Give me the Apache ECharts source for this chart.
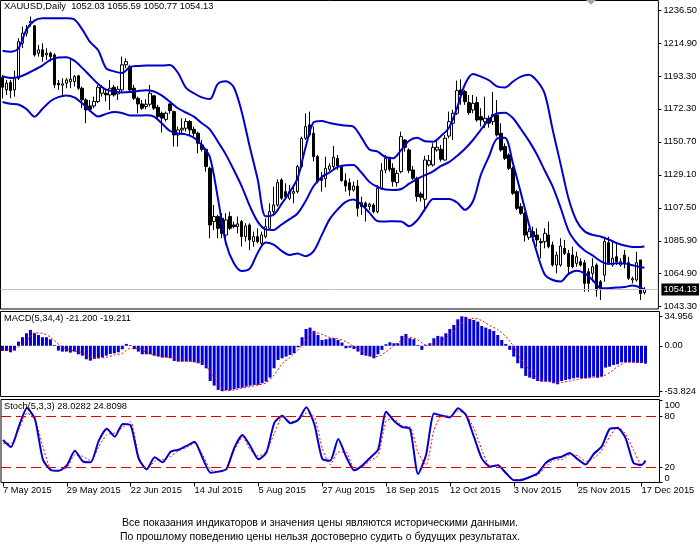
<!DOCTYPE html>
<html>
<head>
<meta charset="utf-8">
<script src="https://cdn.jsdelivr.net/npm/echarts@6/dist/echarts.min.js"></script>
<style>
  html, body { margin: 0; padding: 0; background: #fff; }
  #chart { width: 700px; height: 552px; }
</style>
</head>
<body>
<div id="chart"></div>
<script>
const FONT = "'Liberation Sans', Arial, sans-serif";
const START_DATE = "2015-05-07";
const BAR_COUNT = 162;
const PAD_BARS = 3;

// daily bars
const OPEN = [
  1193.0, 1184.7, 1189.5, 1184.7, 1192.3, 1215.2, 1221.8, 1228.5, 1226.6, 1208.7,
  1210.9, 1207.6, 1208.7, 1207.6, 1189.1, 1187.8, 1189.1, 1190.1, 1190.1, 1193.9,
  1185.8, 1178.1, 1174.2, 1174.2, 1177.1, 1182.5, 1182.5, 1181.4, 1186.4, 1182.1,
  1184.7, 1201.1, 1200.0, 1185.8, 1179.2, 1175.5, 1173.8, 1175.3, 1180.8, 1173.3,
  1169.4, 1165.4, 1175.5, 1170.5, 1155.2, 1158.5, 1159.6, 1164.0, 1158.9, 1156.3,
  1148.7, 1145.8, 1133.4, 1098.5, 1101.8, 1100.7, 1089.7, 1101.8, 1096.3, 1095.2,
  1098.5, 1088.7, 1096.3, 1085.4, 1088.7, 1084.3, 1088.7, 1094.1, 1105.0, 1109.4,
  1125.8, 1118.1, 1113.8, 1117.0, 1118.1, 1134.5, 1153.0, 1161.8, 1156.3, 1141.0,
  1127.0, 1126.5, 1132.7, 1134.5, 1139.9, 1134.5, 1125.3, 1124.0, 1119.2, 1121.8,
  1110.9, 1110.5, 1108.3, 1109.4, 1105.0, 1120.3, 1132.3, 1139.3, 1133.4, 1124.0,
  1131.2, 1151.9, 1145.4, 1132.3, 1126.8, 1116.6, 1113.1, 1135.6, 1135.6, 1145.4,
  1145.8, 1138.8, 1154.5, 1162.9, 1169.4, 1184.7, 1183.6, 1176.4, 1171.6, 1176.4,
  1167.2, 1163.9, 1166.1, 1163.9, 1168.3, 1156.3, 1147.6, 1142.1, 1133.4, 1118.1,
  1108.3, 1103.9, 1088.2, 1091.9, 1089.7, 1085.4, 1085.4, 1089.7, 1083.2, 1070.1,
  1070.1, 1081.0, 1077.7, 1076.6, 1071.2, 1072.3, 1071.6, 1065.7, 1064.6, 1070.1,
  1059.2, 1063.5, 1084.7, 1070.1, 1075.5, 1070.1, 1076.6, 1071.6, 1060.3, 1060.3,
  1073.4, 1052.03
];
const CLOSE = [
  1186.4, 1189.1, 1184.3, 1192.3, 1216.3, 1221.8, 1224.4, 1229.5, 1207.6, 1210.9,
  1206.5, 1208.7, 1206.5, 1188.0, 1188.0, 1188.6, 1191.2, 1191.7, 1193.4, 1185.8,
  1178.1, 1171.6, 1172.0, 1177.1, 1186.4, 1186.4, 1181.4, 1185.8, 1181.4, 1185.1,
  1201.1, 1203.2, 1184.7, 1179.2, 1175.5, 1172.7, 1175.3, 1182.5, 1172.7, 1167.2,
  1166.2, 1169.4, 1171.1, 1155.2, 1158.5, 1159.6, 1164.0, 1158.5, 1156.3, 1149.8,
  1145.8, 1134.5, 1096.3, 1101.8, 1094.1, 1090.8, 1099.6, 1094.1, 1095.2, 1097.0,
  1088.7, 1095.7, 1086.5, 1088.7, 1085.4, 1089.8, 1095.2, 1105.0, 1109.4, 1124.0,
  1113.8, 1114.9, 1118.1, 1118.1, 1134.5, 1153.0, 1160.7, 1155.2, 1141.0, 1124.7,
  1125.5, 1133.4, 1134.9, 1140.6, 1134.9, 1125.3, 1121.8, 1119.2, 1121.8, 1107.2,
  1108.3, 1108.3, 1109.8, 1105.0, 1120.3, 1131.9, 1139.9, 1132.7, 1124.7, 1130.1,
  1154.1, 1147.1, 1131.9, 1126.8, 1114.9, 1114.4, 1138.8, 1138.4, 1147.1, 1147.1,
  1139.3, 1153.0, 1163.9, 1169.4, 1184.2, 1181.4, 1177.0, 1169.8, 1175.9, 1165.0,
  1165.0, 1166.1, 1162.9, 1168.5, 1155.2, 1145.4, 1139.9, 1133.4, 1117.0, 1107.2,
  1103.9, 1089.7, 1091.9, 1088.6, 1086.5, 1084.7, 1090.8, 1082.1, 1070.1, 1076.6,
  1082.5, 1077.7, 1069.0, 1069.0, 1075.5, 1070.1, 1058.1, 1058.1, 1069.0, 1053.7,
  1054.8, 1085.4, 1071.2, 1074.5, 1072.3, 1072.3, 1071.2, 1061.4, 1061.2, 1071.6,
  1051.5, 1054.13
];
const HIGH = [
  1194.5, 1191.2, 1191.2, 1197.3, 1218.5, 1226.1, 1227.2, 1232.7, 1227.2, 1214.1,
  1215.2, 1212.0, 1209.8, 1208.7, 1191.2, 1192.3, 1192.3, 1205.4, 1194.5, 1194.5,
  1186.9, 1179.2, 1178.1, 1180.3, 1188.0, 1188.0, 1184.7, 1191.2, 1188.0, 1187.3,
  1206.5, 1205.4, 1201.1, 1188.0, 1180.3, 1178.1, 1178.6, 1188.0, 1181.4, 1174.9,
  1170.5, 1170.5, 1175.9, 1171.1, 1160.7, 1166.1, 1166.1, 1165.0, 1160.7, 1157.4,
  1152.0, 1146.5, 1134.5, 1109.4, 1102.9, 1104.0, 1104.0, 1105.0, 1098.5, 1101.8,
  1099.6, 1097.4, 1097.4, 1091.9, 1094.1, 1091.9, 1100.7, 1110.5, 1121.4, 1126.2,
  1126.9, 1123.6, 1122.5, 1121.4, 1135.6, 1154.1, 1169.4, 1170.5, 1160.7, 1142.1,
  1131.0, 1141.0, 1136.7, 1148.0, 1142.1, 1135.6, 1130.1, 1126.8, 1124.7, 1125.8,
  1114.9, 1111.6, 1110.9, 1110.5, 1122.5, 1136.7, 1142.1, 1141.0, 1136.7, 1132.3,
  1157.4, 1152.4, 1146.5, 1134.9, 1127.9, 1118.1, 1141.5, 1142.1, 1149.8, 1152.4,
  1148.7, 1155.2, 1170.5, 1171.6, 1190.8, 1191.6, 1184.7, 1181.4, 1181.4, 1180.3,
  1172.7, 1180.3, 1168.0, 1183.4, 1178.0, 1162.8, 1149.7, 1143.2, 1134.5, 1119.2,
  1110.5, 1105.0, 1094.1, 1095.2, 1094.1, 1087.6, 1094.1, 1098.5, 1085.4, 1078.8,
  1087.6, 1086.5, 1079.9, 1082.1, 1078.8, 1074.5, 1073.4, 1067.9, 1074.5, 1071.2,
  1060.3, 1088.6, 1088.6, 1085.4, 1084.3, 1074.5, 1079.9, 1075.5, 1062.5, 1078.8,
  1073.4, 1055.59
];
const LOW = [
  1179.2, 1181.4, 1179.2, 1180.3, 1191.2, 1212.0, 1219.6, 1226.1, 1206.5, 1206.5,
  1203.2, 1204.3, 1203.2, 1185.8, 1184.7, 1181.4, 1185.8, 1185.8, 1186.9, 1184.7,
  1172.7, 1162.9, 1170.5, 1172.7, 1176.0, 1180.3, 1177.1, 1171.6, 1180.3, 1178.1,
  1182.5, 1198.9, 1183.6, 1178.1, 1169.4, 1171.6, 1172.0, 1173.8, 1171.6, 1166.2,
  1156.8, 1164.0, 1169.0, 1147.6, 1147.6, 1155.2, 1157.4, 1155.2, 1154.1, 1143.2,
  1144.3, 1131.2, 1087.6, 1093.0, 1087.6, 1087.6, 1083.2, 1093.0, 1094.1, 1090.8,
  1082.1, 1085.4, 1079.9, 1082.1, 1084.3, 1082.1, 1087.6, 1093.0, 1102.9, 1108.3,
  1112.7, 1113.8, 1112.7, 1110.5, 1117.0, 1133.4, 1152.0, 1154.1, 1137.8, 1123.6,
  1118.1, 1121.0, 1131.2, 1132.3, 1132.3, 1124.7, 1118.1, 1115.3, 1118.1, 1101.8,
  1102.9, 1098.5, 1106.1, 1103.9, 1103.9, 1119.2, 1130.1, 1131.2, 1121.4, 1121.4,
  1130.1, 1144.3, 1130.1, 1125.8, 1111.6, 1111.6, 1105.0, 1134.5, 1134.5, 1144.3,
  1137.8, 1138.4, 1153.0, 1151.9, 1168.3, 1174.9, 1174.9, 1168.3, 1169.4, 1163.9,
  1160.7, 1159.6, 1160.0, 1161.7, 1154.1, 1144.3, 1138.8, 1132.3, 1116.0, 1106.1,
  1102.9, 1085.4, 1086.5, 1085.4, 1082.1, 1074.5, 1081.0, 1081.0, 1069.0, 1064.6,
  1069.0, 1076.6, 1064.6, 1067.9, 1069.0, 1069.0, 1052.6, 1052.6, 1059.2, 1049.4,
  1047.2, 1059.2, 1070.1, 1069.0, 1070.1, 1069.0, 1067.9, 1060.3, 1058.1, 1059.2,
  1047.2, 1050.77
];

// Bollinger bands, read every second bar (plus the last one)
const BB_UPPER = [
  1210.3, 1209.7, 1211.9, 1224.1, 1230.0, 1231.6, 1231.6, 1231.6, 1231.6, 1230.8,
  1224.3, 1215.9, 1210.6, 1198.8, 1196.8, 1195.7, 1199.7, 1200.4, 1200.7, 1200.7,
  1200.7, 1201.0, 1195.9, 1186.2, 1182.5, 1179.8, 1178.7, 1188.6, 1190.4, 1186.4,
  1170.3, 1147.6, 1126.2, 1102.0, 1103.0, 1110.1, 1117.7, 1126.8, 1147.0, 1163.4,
  1164.4, 1163.1, 1162.0, 1161.4, 1160.7, 1153.6, 1145.7, 1144.4, 1140.8, 1140.0,
  1145.4, 1151.4, 1153.3, 1151.1, 1150.8, 1154.6, 1160.0, 1172.9, 1188.4, 1195.1,
  1193.4, 1191.0, 1187.0, 1186.3, 1190.1, 1193.4, 1194.6, 1190.7, 1182.1, 1158.5,
  1135.8, 1113.3, 1098.9, 1092.1, 1089.8, 1088.8, 1086.8, 1084.5, 1082.8, 1081.9,
  1081.9, 1082.2
];
const BB_MIDDLE = [
  1193.6, 1192.5, 1193.1, 1195.1, 1197.8, 1200.6, 1204.4, 1205.9, 1206.1, 1203.8,
  1199.1, 1193.8, 1188.6, 1184.9, 1183.8, 1183.0, 1183.3, 1184.0, 1184.5, 1183.6,
  1180.9, 1176.9, 1172.7, 1169.9, 1167.2, 1162.9, 1158.9, 1150.9, 1142.5, 1132.4,
  1121.6, 1108.8, 1098.5, 1093.4, 1093.0, 1096.6, 1100.1, 1103.8, 1111.8, 1121.6,
  1127.6, 1130.7, 1134.1, 1135.4, 1135.6, 1130.6, 1124.5, 1121.3, 1119.5, 1119.2,
  1119.8, 1123.3, 1126.5, 1128.9, 1131.4, 1134.9, 1137.4, 1141.5, 1146.2, 1151.9,
  1158.7, 1165.2, 1169.3, 1169.8, 1166.3, 1159.1, 1151.5, 1142.6, 1131.9, 1121.4,
  1107.4, 1092.3, 1084.5, 1079.6, 1076.4, 1072.6, 1070.8, 1071.2, 1071.0, 1069.9,
  1068.8, 1068.2
];
const BB_LOWER = [
  1176.8, 1175.6, 1175.1, 1172.2, 1167.2, 1172.2, 1177.3, 1180.0, 1181.1, 1179.8,
  1175.9, 1170.9, 1167.3, 1169.0, 1170.2, 1169.6, 1167.9, 1167.9, 1168.1, 1167.2,
  1162.7, 1157.8, 1156.2, 1155.6, 1153.4, 1148.5, 1140.8, 1114.2, 1084.8, 1071.4,
  1066.2, 1067.7, 1078.0, 1084.8, 1083.4, 1079.4, 1076.7, 1077.6, 1075.8, 1079.0,
  1089.3, 1099.8, 1106.3, 1111.3, 1112.9, 1109.7, 1104.4, 1098.9, 1098.5, 1098.8,
  1098.6, 1095.5, 1099.4, 1106.8, 1113.3, 1113.3, 1113.3, 1111.0, 1106.2, 1111.8,
  1129.3, 1141.1, 1152.7, 1153.3, 1136.9, 1117.3, 1097.0, 1078.5, 1063.9, 1060.3,
  1059.3, 1064.3, 1066.3, 1064.6, 1060.3, 1055.1, 1054.9, 1055.3, 1055.7, 1056.6,
  1055.4, 1053.8
];

// MACD(5,34,4): histogram every bar, signal every second bar
const MACD_HIST = [
  -6.1, -6.1, -7.7, -5.7, 4.9, 10.1, 14.8, 18.8, 14.8, 12.8,
  10.1, 10.1, 7.7, 1.0, -5.7, -6.9, -6.9, -8.1, -6.9, -10.1,
  -11.7, -16.0, -17.6, -15.6, -14.8, -13.6, -11.7, -9.7, -8.9, -7.7,
  -4.1, 2.2, 0.8, -4.1, -6.9, -10.1, -10.1, -10.1, -11.7, -12.8,
  -14.0, -14.0, -14.8, -18.0, -18.8, -18.8, -18.8, -18.8, -19.6, -20.7,
  -22.7, -26.7, -41.7, -47.2, -52.3, -53.824, -52.7, -52.7, -51.5, -50.4,
  -49.6, -48.4, -47.2, -46.4, -46.4, -44.4, -42.5, -37.7, -26.7, -16.8,
  -14.8, -12.8, -10.9, -8.9, -1.8, 10.1, 19.9, 21.5, 17.6, 12.8,
  6.9, 7.7, 8.9, 8.9, 6.9, 3.8, -3.0, -2.2, -3.8, -6.9,
  -10.9, -11.7, -12.8, -14.8, -10.1, -4.9, 1.8, 4.1, 3.0, 3.0,
  11.7, 14.0, 8.9, 7.7, 1.0, -4.9, 1.0, 3.0, 8.9, 11.7,
  10.9, 14.8, 19.9, 24.7, 31.4, 34.956, 34.2, 31.8, 30.6, 28.6,
  23.5, 21.5, 19.6, 17.6, 12.8, 6.9, 2.2, -4.9, -12.8, -20.7,
  -26.7, -35.7, -37.7, -39.3, -41.7, -42.5, -42.5, -42.5, -44.4, -45.6,
  -41.7, -40.5, -39.7, -38.5, -37.7, -38.5, -38.5, -37.7, -36.5, -37.7,
  -36.5, -25.9, -24.7, -22.7, -21.9, -19.6, -19.6, -19.6, -20.0, -20.2,
  -20.5, -21.2
];
const MACD_SIGNAL = [
  -4.9, -4.9, -1.0, 5.7, 15.2, 14.8, 10.1, 1.8, -3.8, -6.1,
  -8.1, -13.2, -14.4, -13.6, -10.9, -8.9, -3.0, -3.0, -7.7, -10.5,
  -12.0, -13.2, -15.6, -17.2, -18.8, -19.6, -30.6, -44.4, -53.1, -52.3,
  -50.0, -48.4, -46.4, -44.0, -34.6, -21.5, -13.6, -4.9, 6.9, 16.0,
  13.6, 9.7, 8.1, 4.9, -1.0, -5.7, -11.7, -12.8, -6.9, 0.2,
  6.9, 10.1, 6.9, 1.0, 2.2, 6.1, 12.8, 22.3, 29.8, 32.6,
  29.8, 23.9, 19.2, 10.9, -1.0, -16.8, -29.0, -38.1, -41.7, -43.2,
  -43.2, -41.7, -39.7, -38.5, -37.7, -36.5, -31.8, -24.7, -19.9, -19.0,
  -19.0, -19.211
];

// Stochastic(5,3,3), every second bar
const STOCH_K = [
  52.4, 44.0, 68.9, 90.3, 77.2, 29.1, 16.8, 16.0, 22.4, 39.7,
  27.1, 25.9, 51.6, 65.8, 56.3, 71.5, 69.7, 30.3, 17.6, 31.8,
  25.9, 38.5, 40.9, 45.3, 50.4, 31.0, 13.7, 14.9, 18.0, 43.7,
  58.3, 44.9, 29.5, 37.4, 72.9, 81.2, 72.1, 76.4, 91.1, 71.3,
  29.9, 27.9, 53.5, 32.6, 16.4, 22.0, 31.4, 40.9, 85.9, 74.9,
  67.8, 65.4, 12.0, 34.6, 83.9, 81.2, 79.2, 89.9, 82.0, 56.3,
  30.3, 20.8, 22.4, 13.3, 4.6, 5.0, 8.5, 12.9, 25.1, 30.7,
  32.6, 37.0, 29.5, 23.2, 35.8, 44.5, 65.4, 66.6, 54.7, 25.1,
  22.8, 28.0282
];
const STOCH_D = [
  48.4, 48.4, 65.0, 84.3, 76.8, 44.5, 17.2, 16.0, 19.6, 34.6,
  33.0, 27.9, 44.5, 58.7, 60.7, 67.4, 74.1, 32.6, 17.2, 27.1,
  29.1, 33.0, 39.7, 43.7, 48.4, 35.0, 17.2, 14.9, 18.0, 40.5,
  55.9, 40.5, 33.4, 38.9, 60.3, 79.6, 74.1, 75.7, 84.3, 80.0,
  42.5, 23.2, 38.2, 37.8, 18.8, 20.4, 27.9, 34.2, 74.9, 77.2,
  68.9, 68.2, 37.4, 22.8, 64.2, 81.6, 80.4, 86.7, 82.8, 66.2,
  40.5, 21.2, 22.8, 14.9, 5.0, 6.2, 8.1, 10.9, 20.4, 28.7,
  29.1, 35.0, 33.8, 27.1, 30.7, 39.7, 56.3, 67.8, 59.5, 40.5,
  23.2, 24.8098
];

const TICK_INDEX = [0, 16, 32, 48, 64, 80, 96, 112, 128, 144, 160];
const PRICE_TICKS = [1236.5, 1214.9, 1193.3, 1172.3, 1150.7, 1129.1, 1107.5, 1085.9, 1064.9, 1043.3];
const MACD_TICKS = [34.956, 0, -53.824];
const STOCH_TICKS = [100, 80, 20, 2];
const STOCH_LEVELS = [80, 20];
const NOTE_LINES = [
  "Все показания индикаторов и значения цены являются историческими данными.",
  "По прошлому поведению цены нельзя достоверно судить о будущих результатах.",
];

const MONTHS = ["Jan", "Feb", "Mar", "Apr", "May", "Jun", "Jul", "Aug", "Sep", "Oct", "Nov", "Dec"];

function buildDates(n) {
  const out = [];
  const d = new Date(START_DATE + "T00:00:00Z");
  while (out.length < n) {
    const wd = d.getUTCDay();
    if (wd !== 0 && wd !== 6) {
      out.push(`${d.getUTCDate()} ${MONTHS[d.getUTCMonth()]} ${d.getUTCFullYear()}`);
    }
    d.setUTCDate(d.getUTCDate() + 1);
  }
  return out;
}

const DATES = buildDates(BAR_COUNT + PAD_BARS);
const SAMPLE_IDX = [];
for (let i = 0; i < BAR_COUNT; i += 2) SAMPLE_IDX.push(i);
SAMPLE_IDX.push(BAR_COUNT - 1);

const last = BAR_COUNT - 1;
const pairs = (vals) => vals.map((v, k) => [SAMPLE_IDX[k], v]);
const isTick = (idx) => TICK_INDEX.includes(idx);

const textBase = { fontFamily: FONT, fontSize: 9.3, color: "#000", fontWeight: "normal" };

const grids = [
  { left: 0.5, top: 0.5, width: 659, height: 308.5 },
  { left: 0.5, top: 311.5, width: 659, height: 85 },
  { left: 0.5, top: 399.5, width: 659, height: 83 },
].map((g) => ({ ...g, show: true, borderColor: "#000", borderWidth: 1, backgroundColor: "#fff" }));

const hiddenX = (gi) => ({
  type: "category", gridIndex: gi, data: DATES, boundaryGap: true,
  axisLine: { show: false }, axisTick: { show: false }, axisLabel: { show: false }, splitLine: { show: false },
});

const rightY = (gi, min, max, ticks, fmt, extra = {}) => ({
  type: "value", gridIndex: gi, position: "right", min, max,
  splitLine: { show: false },
  axisLine: { show: false },
  axisTick: { show: true, customValues: ticks, length: 3, lineStyle: { color: "#000" } },
  axisLabel: { customValues: ticks, formatter: fmt, margin: 5, ...textBase, ...extra },
});

const chart = echarts.init(document.getElementById("chart"), null, { renderer: "canvas" });

chart.setOption({
  animation: false,
  backgroundColor: "#fff",
  title: [
    {
      text: `XAUUSD,Daily  ${OPEN[last]} ${HIGH[last]} ${LOW[last]} ${CLOSE[last]}`,
      left: 4, top: 2, padding: 0, textStyle: textBase,
    },
    {
      text: `MACD(5,34,4) ${MACD_HIST[last].toFixed(3)} ${MACD_SIGNAL[MACD_SIGNAL.length - 1].toFixed(3)}`,
      left: 4, top: 314, padding: 0, textStyle: textBase,
    },
    {
      text: `Stoch(5,3,3) ${STOCH_K[STOCH_K.length - 1].toFixed(4)} ${STOCH_D[STOCH_D.length - 1].toFixed(4)}`,
      left: 4, top: 402, padding: 0, textStyle: textBase,
    },
    {
      text: NOTE_LINES.join("\n"),
      left: 320, top: 516, padding: 0, textAlign: "center",
      textStyle: { fontFamily: FONT, fontSize: 10.5, lineHeight: 14, color: "#000", fontWeight: "normal" },
    },
  ],
  graphic: [
    { type: "polygon", shape: { points: [[586, 0], [596, 0], [591, 5]] }, style: { fill: "#a8a8a8" } },
  ],
  grid: grids,
  xAxis: [
    hiddenX(0),
    hiddenX(1),
    {
      type: "category", gridIndex: 2, data: DATES, boundaryGap: true,
      axisLine: { show: false },
      splitLine: { show: false },
      axisTick: { show: true, interval: isTick, alignWithLabel: true, length: 4, lineStyle: { color: "#000" } },
      axisLabel: { interval: isTick, align: "left", margin: 3, ...textBase },
    },
  ],
  yAxis: [
    rightY(0, 1041.3, 1243.2, PRICE_TICKS, (v) => v.toFixed(2)),
    rightY(1, -60.1, 40.6, MACD_TICKS, (v) => (v === 0 ? "0.00" : v.toFixed(3))),
    rightY(2, 2, 100.4, STOCH_TICKS,
      (v) => (v >= 99 ? "{t|100}" : v <= 3 ? "{b|0}" : String(v)),
      {
        rich: {
          t: { ...textBase, padding: [12, 0, 0, 0] },
          b: { ...textBase, padding: [0, 0, 9, 0] },
        },
      }),
  ],
  series: [
    {
      type: "candlestick",
      xAxisIndex: 0, yAxisIndex: 0,
      barWidth: 3,
      data: OPEN.map((o, i) => [o, CLOSE[i], LOW[i], HIGH[i]]),
      itemStyle: { color: "#fff", color0: "#000", borderColor: "#000", borderColor0: "#000", borderWidth: 1 },
      markLine: {
        silent: true, symbol: "none",
        lineStyle: { color: "#c0c0c0", width: 1, type: "solid" },
        label: {
          position: "end", distance: 3,
          formatter: () => CLOSE[last].toFixed(2),
          backgroundColor: "#000", color: "#fff", padding: [2, 2, 1, 2],
          fontFamily: FONT, fontSize: 9.3,
        },
        data: [{ yAxis: CLOSE[last] }],
      },
    },
    ...[BB_UPPER, BB_MIDDLE, BB_LOWER].map((band) => ({
      type: "line",
      xAxisIndex: 0, yAxisIndex: 0,
      data: pairs(band),
      smooth: 0.3, symbol: "none",
      lineStyle: { color: "#0000cd", width: 2 },
    })),
    {
      type: "bar",
      xAxisIndex: 1, yAxisIndex: 1,
      barWidth: 3,
      data: MACD_HIST,
      itemStyle: { color: "#0000dd" },
    },
    {
      type: "line",
      xAxisIndex: 1, yAxisIndex: 1,
      data: pairs(MACD_SIGNAL),
      smooth: 0.3, symbol: "none",
      lineStyle: { color: "#ff0000", width: 1, type: [2, 2] },
    },
    {
      type: "line",
      xAxisIndex: 2, yAxisIndex: 2,
      data: pairs(STOCH_D),
      smooth: 0.2, symbol: "none",
      lineStyle: { color: "#ff0000", width: 1, type: [2, 2] },
      markLine: {
        silent: true, symbol: "none", label: { show: false },
        lineStyle: { color: "#e00000", width: 1, type: [10, 5] },
        data: STOCH_LEVELS.map((v) => ({ yAxis: v })),
      },
    },
    {
      type: "line",
      xAxisIndex: 2, yAxisIndex: 2,
      data: pairs(STOCH_K),
      smooth: 0.2, symbol: "none",
      lineStyle: { color: "#0000cd", width: 2 },
    },
  ],
});
</script>
</body>
</html>
